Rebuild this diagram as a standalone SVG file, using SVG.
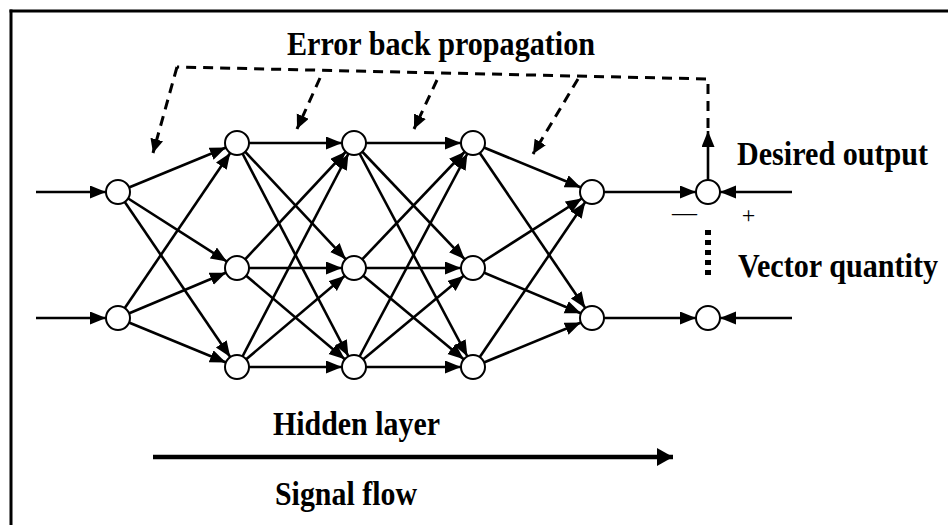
<svg xmlns="http://www.w3.org/2000/svg" width="948" height="525" viewBox="0 0 948 525">
<style>
.n{fill:#fff;stroke:#000;stroke-width:2}
.e{stroke:#000;stroke-width:2.6;fill:none;marker-end:url(#ah)}
.d{stroke:#000;stroke-width:3;fill:none;stroke-dasharray:10 7}
.t{font-family:"Liberation Serif","Times New Roman",serif;font-weight:bold;font-size:33px;fill:#000}
.s{font-family:"Liberation Serif","Times New Roman",serif;fill:#000}
</style>
<defs>
<marker id="ah" markerUnits="userSpaceOnUse" markerWidth="30" markerHeight="14" refX="28" refY="6.5" orient="auto"><path d="M0,0 L16,6.5 L0,13 z" fill="#000"/></marker>
<marker id="ap" markerUnits="userSpaceOnUse" markerWidth="17" markerHeight="14" refX="16" refY="6.5" orient="auto"><path d="M0,0 L16,6.5 L0,13 z" fill="#000"/></marker>
<marker id="ad" markerUnits="userSpaceOnUse" markerWidth="16" markerHeight="14" refX="14" refY="6.5" orient="auto"><path d="M0,0 L14,6.5 L0,13 z" fill="#000" stroke="none"/></marker>
<marker id="ab" markerUnits="userSpaceOnUse" markerWidth="18" markerHeight="20" refX="16" refY="9" orient="auto"><path d="M0,0 L16,9 L0,18 z" fill="#000"/></marker>
</defs>
<rect width="948" height="525" fill="#fff"/>
<g id="frame" stroke="#000" stroke-width="3"><line x1="9.5" y1="11" x2="948" y2="11"/><line x1="11" y1="9.5" x2="11" y2="525"/></g>
<g id="connectors">
<line class="e" x1="36" y1="192" x2="118" y2="192"/>
<line class="e" x1="36" y1="318" x2="118" y2="318"/>
<line class="e" x1="118" y1="192" x2="237" y2="143"/>
<line class="e" x1="118" y1="192" x2="237" y2="268"/>
<line class="e" x1="118" y1="192" x2="237" y2="367"/>
<line class="e" x1="118" y1="318" x2="237" y2="143"/>
<line class="e" x1="118" y1="318" x2="237" y2="268"/>
<line class="e" x1="118" y1="318" x2="237" y2="367"/>
<line class="e" x1="237" y1="143" x2="354" y2="143"/>
<line class="e" x1="237" y1="143" x2="354" y2="268"/>
<line class="e" x1="237" y1="143" x2="354" y2="367"/>
<line class="e" x1="237" y1="268" x2="354" y2="143"/>
<line class="e" x1="237" y1="268" x2="354" y2="268"/>
<line class="e" x1="237" y1="268" x2="354" y2="367"/>
<line class="e" x1="237" y1="367" x2="354" y2="143"/>
<line class="e" x1="237" y1="367" x2="354" y2="268"/>
<line class="e" x1="237" y1="367" x2="354" y2="367"/>
<line class="e" x1="354" y1="143" x2="473" y2="143"/>
<line class="e" x1="354" y1="143" x2="473" y2="268"/>
<line class="e" x1="354" y1="143" x2="473" y2="367"/>
<line class="e" x1="354" y1="268" x2="473" y2="143"/>
<line class="e" x1="354" y1="268" x2="473" y2="268"/>
<line class="e" x1="354" y1="268" x2="473" y2="367"/>
<line class="e" x1="354" y1="367" x2="473" y2="143"/>
<line class="e" x1="354" y1="367" x2="473" y2="268"/>
<line class="e" x1="354" y1="367" x2="473" y2="367"/>
<line class="e" x1="473" y1="143" x2="592" y2="192"/>
<line class="e" x1="473" y1="143" x2="592" y2="318"/>
<line class="e" x1="473" y1="268" x2="592" y2="192"/>
<line class="e" x1="473" y1="268" x2="592" y2="318"/>
<line class="e" x1="473" y1="367" x2="592" y2="192"/>
<line class="e" x1="473" y1="367" x2="592" y2="318"/>
<line class="e" x1="592" y1="192" x2="708" y2="192"/>
<line class="e" x1="592" y1="318" x2="708" y2="318"/>
<line class="e" x1="792" y1="192" x2="708" y2="192"/>
<line class="e" x1="792" y1="318" x2="708" y2="318"/>
<line x1="708" y1="180" x2="708" y2="131" stroke="#000" stroke-width="2.6" marker-end="url(#ap)"/>
<path class="d" d="M708,128 L708,79 L177,67"/>
<line class="d" x1="177" y1="67" x2="153" y2="153" marker-end="url(#ad)"/>
<line class="d" x1="320" y1="78" x2="297" y2="129" marker-end="url(#ad)"/>
<line class="d" x1="437" y1="80" x2="414" y2="129" marker-end="url(#ad)"/>
<line class="d" x1="578" y1="79" x2="533" y2="154" marker-end="url(#ad)"/>
<line x1="708" y1="230" x2="708" y2="280" stroke="#000" stroke-width="6" stroke-dasharray="5 5"/>
<line x1="153" y1="457" x2="673" y2="457" stroke="#000" stroke-width="4.5" marker-end="url(#ab)"/>
</g>
<g id="in1"><circle class="n" cx="118" cy="192" r="12"/></g>
<g id="in2"><circle class="n" cx="118" cy="318" r="12"/></g>
<g id="h1a"><circle class="n" cx="237" cy="143" r="12"/></g>
<g id="h1b"><circle class="n" cx="237" cy="268" r="12"/></g>
<g id="h1c"><circle class="n" cx="237" cy="367" r="12"/></g>
<g id="h2a"><circle class="n" cx="354" cy="143" r="12"/></g>
<g id="h2b"><circle class="n" cx="354" cy="268" r="12"/></g>
<g id="h2c"><circle class="n" cx="354" cy="367" r="12"/></g>
<g id="h3a"><circle class="n" cx="473" cy="143" r="12"/></g>
<g id="h3b"><circle class="n" cx="473" cy="268" r="12"/></g>
<g id="h3c"><circle class="n" cx="473" cy="367" r="12"/></g>
<g id="out1"><circle class="n" cx="592" cy="192" r="12"/></g>
<g id="out2"><circle class="n" cx="592" cy="318" r="12"/></g>
<g id="err1"><circle class="n" cx="708" cy="192" r="12"/></g>
<g id="err2"><circle class="n" cx="708" cy="318" r="12"/></g>
<g id="labels">
<text class="t" x="287" y="55" textLength="308" lengthAdjust="spacingAndGlyphs">Error back propagation</text>
<text class="t" x="737" y="165" textLength="191" lengthAdjust="spacingAndGlyphs">Desired output</text>
<text class="t" transform="translate(738,277) scale(1,1.14)" x="0" y="0" style="font-size:29px" textLength="200" lengthAdjust="spacingAndGlyphs">Vector quantity</text>
<text class="t" x="273" y="435" textLength="167" lengthAdjust="spacingAndGlyphs">Hidden layer</text>
<text class="t" x="275" y="505" textLength="142" lengthAdjust="spacingAndGlyphs">Signal flow</text>
<text class="s" x="672" y="221" font-size="25">—</text>
<text class="s" x="748.5" y="223" font-size="24" text-anchor="middle">+</text>
</g>
</svg>
